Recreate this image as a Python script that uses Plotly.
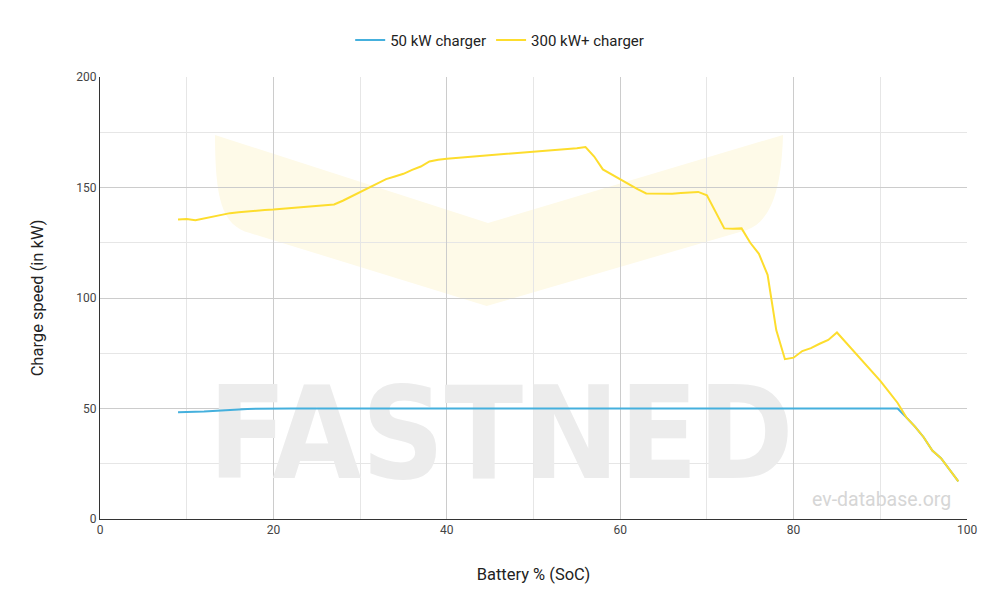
import plotly.graph_objects as go

soc = [9, 10, 11, 12, 13, 14, 15, 16, 17, 18, 19, 20, 21, 22, 23, 24, 25, 26, 27, 28,
       29, 30, 31, 32, 33, 34, 35, 36, 37, 38, 39, 40, 41, 42, 43, 44, 45, 46, 47, 48,
       49, 50, 51, 52, 53, 54, 55, 56, 57, 58, 59, 60, 61, 62, 63, 64, 65, 66, 67, 68,
       69, 70, 71, 72, 73, 74, 75, 76, 77, 78, 79, 80, 81, 82, 83, 84, 85, 86, 87, 88,
       89, 90, 91, 92, 93, 94, 95, 96, 97, 98, 99]

kw50 = [48.3, 48.3, 48.3, 48.6, 48.9, 49.2, 49.4, 49.6, 49.8, 49.9, 50, 50, 50, 50, 50, 50, 50, 50, 50, 50,
        50, 50, 50, 50, 50, 50, 50, 50, 50, 50, 50, 50, 50, 50, 50, 50, 50, 50, 50, 50,
        50, 50, 50, 50, 50, 50, 50, 50, 50, 50, 50, 50, 50, 50, 50, 50, 50, 50, 50, 50,
        50, 50, 50, 50, 50, 50, 50, 50, 50, 50, 50, 50, 50, 50, 50, 50, 50, 50, 50, 50,
        50, 50, 50, 50, 46, 41.8, 37, 31, 27.5, 22, 17]

kw300 = [135.5, 135.7, 135.2, 136.0, 137.0, 137.8, 138.4, 138.8, 139.2, 139.5, 139.8, 140.0, 140.3, 140.6, 141.0, 141.3, 141.6, 141.8, 142.3, 144.0,
         146.0, 148.0, 150.0, 152.0, 153.8, 155.0, 156.2, 158.0, 159.5, 161.8, 162.6, 163.0, 163.3, 163.6, 163.9, 164.2, 164.5, 164.8, 165.1, 165.4,
         165.7, 166.0, 166.3, 166.7, 167.0, 167.4, 167.8, 168.3, 164.0, 158.2, 156.0, 153.5, 151.3, 149.3, 147.3, 147.2, 147.0, 147.2, 147.5, 147.8,
         148.0, 146.5, 139.0, 131.5, 131.3, 131.5, 125.0, 120.0, 110.5, 85.5, 72.3, 73.0, 76.0, 77.3, 79.3, 81.0, 84.4, 80.0, 76.0, 71.5,
         67.0, 62.5, 57.5, 52.5, 46.0, 41.8, 37.0, 31.0, 27.5, 22.0, 17.0]

series_names = ["50 kW charger", "300 kW+ charger"]
series_colors = ["#45b0dd", "#fddd2d"]

fig = go.Figure()

# watermark text (below the lines)
fig.add_trace(go.Scatter(
    x=[46.25], y=[33.0], mode="text", text=["FASTNED"],
    textfont=dict(family="Liberation Sans Narrow, DejaVu Sans Condensed, sans-serif",
                  size=128, color="#ececec", weight="bold"),
    textposition="middle center", hoverinfo="skip", showlegend=False,
))

fig.add_trace(go.Scatter(x=soc, y=kw50, mode="lines", name=series_names[0],
                         line=dict(color=series_colors[0], width=2)))
fig.add_trace(go.Scatter(x=soc, y=kw300, mode="lines", name=series_names[1],
                         line=dict(color=series_colors[1], width=2)))

# faded logo chevron
fig.add_shape(
    type="path", xref="x", yref="y", layer="below",
    path=("M 13.26,173.8 L 44.75,133.9 L 78.78,173.8 "
          "C 78.6,150 77.5,135 74.6,130.8 L 44.6,96.4 L 17.3,129.4 "
          "C 14.0,133 13.3,145 13.26,173.8 Z"),
    fillcolor="#fefae8", line=dict(width=0),
)

fig.add_annotation(
    text="ev-database.org", xref="paper", yref="paper",
    x=0.984, y=0.043, xanchor="right", yanchor="middle", showarrow=False,
    font=dict(family="Roboto, sans-serif", size=19.5, color="#d6d6d6"),
)

fig.update_layout(
    width=1000, height=613,
    margin=dict(l=92, r=41, t=69, b=102),
    paper_bgcolor="white", plot_bgcolor="white",
    font=dict(family="Roboto, sans-serif", color="#444"),
    legend=dict(orientation="h", x=0.461, xanchor="center", y=1.083, yanchor="middle",
                font=dict(size=15, color="#222"), itemwidth=30),
    showlegend=True,
)

fig.update_xaxes(
    range=[0, 100], dtick=20, tick0=0,
    showgrid=True, gridcolor="#cccccc", gridwidth=1,
    minor=dict(dtick=10, showgrid=True, gridcolor="#e6e6e6", gridwidth=1),
    showline=True, linecolor="#333", linewidth=1,
    zeroline=False, ticks="",
    tickfont=dict(size=12, color="#444"),
    title=dict(text="Battery % (SoC)", font=dict(size=16.5, color="#222"), standoff=32),
)
fig.update_yaxes(
    range=[0, 200], dtick=50, tick0=0,
    showgrid=True, gridcolor="#cccccc", gridwidth=1,
    minor=dict(dtick=25, showgrid=True, gridcolor="#e6e6e6", gridwidth=1),
    showline=True, linecolor="#333", linewidth=1,
    zeroline=False, ticks="",
    tickfont=dict(size=12, color="#444"),
    title=dict(text="Charge speed (in kW)", font=dict(size=16.5, color="#222"), standoff=28),
)

fig.write_html("out.html")
